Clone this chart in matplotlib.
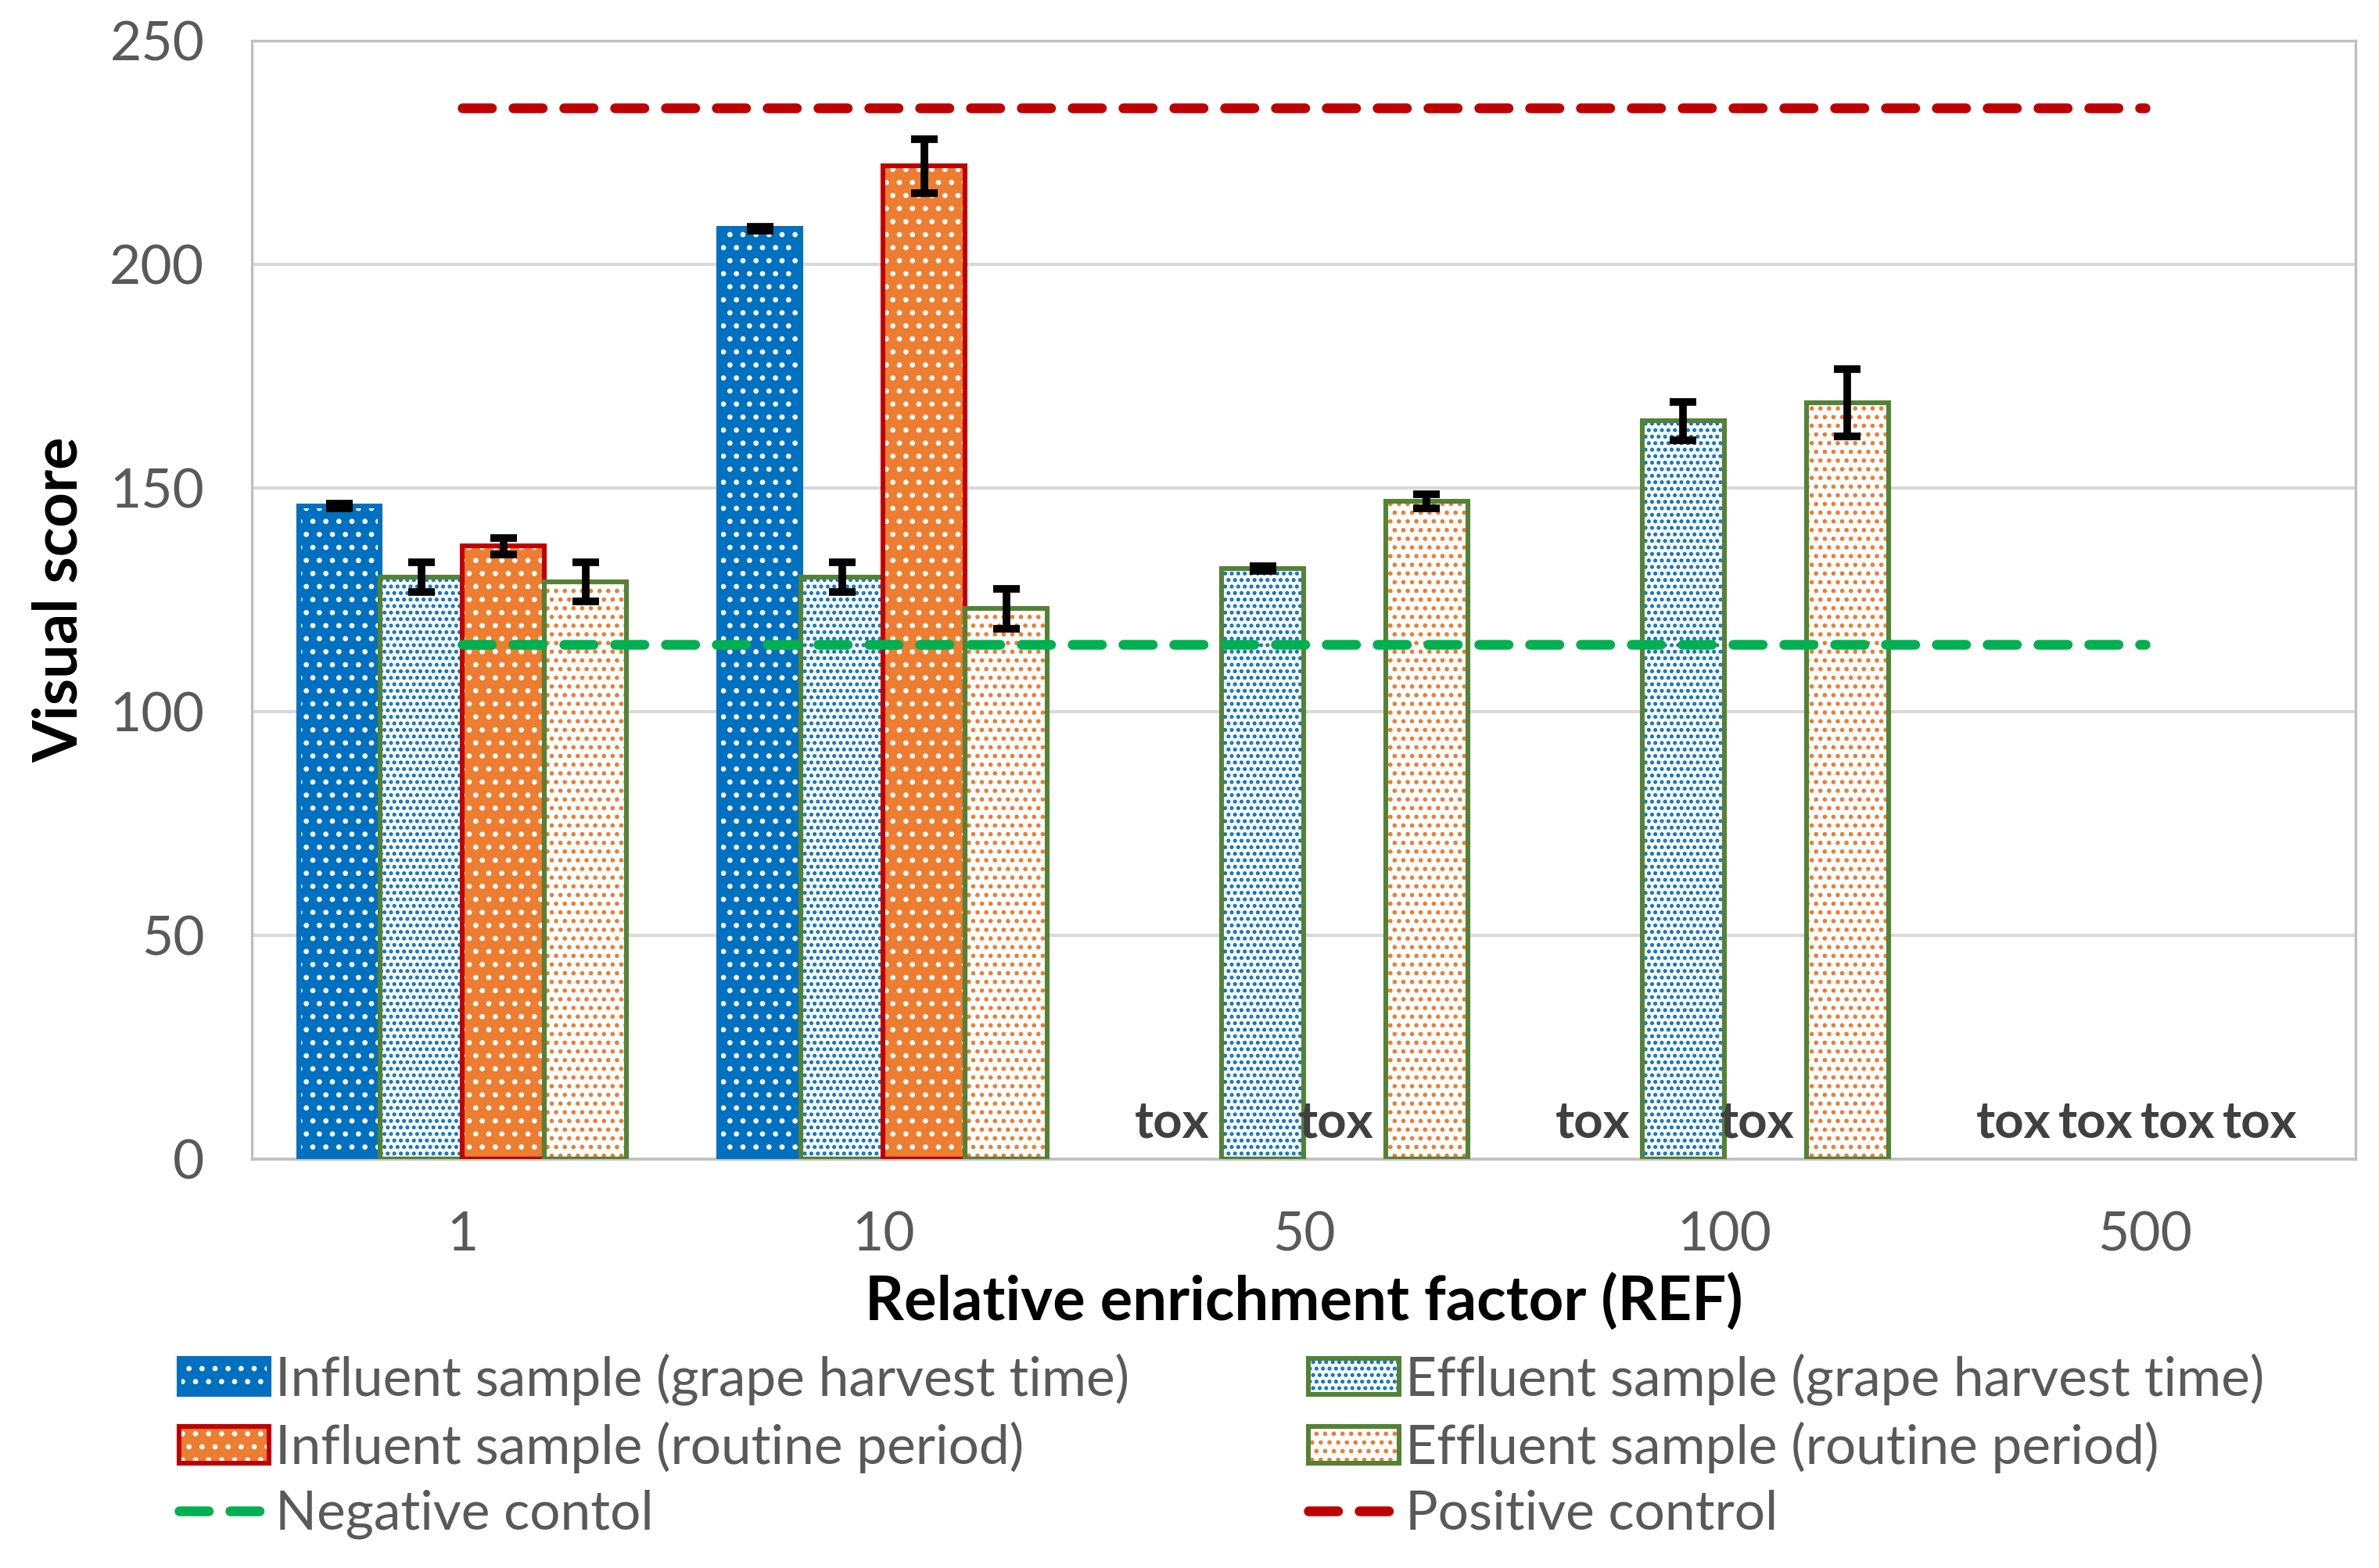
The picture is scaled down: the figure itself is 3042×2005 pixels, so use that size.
import matplotlib
matplotlib.use('Agg')
import matplotlib.pyplot as plt
import numpy as np
from matplotlib.lines import Line2D

plt.rcParams['font.family'] = ['Lato', 'DejaVu Sans']
plt.rcParams['hatch.linewidth'] = 1.2

# Données
categories = ['1', '10', '50', '100', '500']
series_labels = ['Influent sample (grape harvest time)',
                 'Effluent sample (grape harvest time)',
                 'Influent sample (routine period)',
                 'Effluent sample (routine period)']
# np.nan = toxique ("tox")
influent_grape = [146, 208, np.nan, np.nan, np.nan]
influent_grape_err = [0.5, 0.4, 0, 0, 0]
effluent_grape = [130, 130, 132, 165, np.nan]
effluent_grape_err = [3.3, 3.3, 0.5, 4.3, 0]
influent_routine = [137, 222, np.nan, np.nan, np.nan]
influent_routine_err = [1.8, 6.0, 0, 0, 0]
effluent_routine = [129, 123, 147, 169, np.nan]
effluent_routine_err = [4.4, 4.4, 1.6, 7.5, 0]
negative_control = 115
positive_control = 235

series = [influent_grape, effluent_grape, influent_routine, effluent_routine]
errors = [influent_grape_err, effluent_grape_err, influent_routine_err, effluent_routine_err]

# Styles : (couleur de fond, couleur des points, bordure, motif)
styles = [
    ('#0070C0', 'white', '#0070C0', '..'),
    ('white', '#0070C0', '#548235', '....'),
    ('#ED7D31', 'white', '#C00000', '..'),
    ('white', '#ED7D31', '#548235', '...'),
]

fig = plt.figure(figsize=(15.21, 10.025), dpi=200)
ax = fig.add_axes([0.106, 0.261, 0.884, 0.713])

x = np.arange(len(categories))
w = 0.195
offsets = [-1.5 * w, -0.5 * w, 0.5 * w, 1.5 * w]
handles = []
for vals, errs, (fc, hc, ec, hatch), off in zip(series, errors, styles, offsets):
    vals = np.array(vals, dtype=float)
    b1 = ax.bar(x + off, vals, w, color=fc, edgecolor=hc, hatch=hatch, linewidth=0, zorder=2)
    b2 = ax.bar(x + off, vals, w, fill=False, edgecolor=ec, linewidth=2.2, zorder=3)
    errs = np.array(errs)
    ok = ~np.isnan(vals)
    ax.errorbar((x + off)[ok], vals[ok], yerr=errs[ok], fmt='none', ecolor='black',
                elinewidth=3.5, capsize=6, capthick=3.5, zorder=4)
    # Texte "tox"
    for xi, v in zip(x + off, vals):
        if np.isnan(v):
            ax.text(xi - 0.02, 8, 'tox', ha='center', va='center', fontsize=23.5,
                    fontweight='bold', color='#404040', zorder=5)
    handles.append((b1[0], b2[0]))

# Contrôles
dash = (0, (3, 2.2))
ax.plot([x[0], x[-1]], [negative_control, negative_control], color='#00B050',
        linestyle=dash, linewidth=4.5, dash_capstyle='round', zorder=5)
ax.plot([x[0], x[-1]], [positive_control, positive_control], color='#C00000',
        linestyle=dash, linewidth=4.5, dash_capstyle='round', zorder=5)

ax.set_xlim(-0.5, len(categories) - 0.5)
ax.set_ylim(0, 250)
ax.set_yticks(range(0, 251, 50))
ax.set_xticks(x)
ax.set_xticklabels(categories)
ax.tick_params(axis='both', labelsize=25, labelcolor='#595959', length=0)
ax.tick_params(axis='y', pad=22)
ax.tick_params(axis='x', pad=24)
ax.grid(axis='y', color='#D9D9D9', linewidth=1.5, zorder=0)
ax.set_axisbelow(True)
for s in ax.spines.values():
    s.set_color('#BFBFBF')
    s.set_linewidth(1.2)

ax.set_xlabel('Relative enrichment factor (REF)', fontsize=28, fontweight='bold', labelpad=6)
ax.set_ylabel('Visual score', fontsize=28, fontweight='bold', labelpad=10)

neg = Line2D([], [], color='#00B050', linestyle=dash, linewidth=4.5, dash_capstyle='round')
pos = Line2D([], [], color='#C00000', linestyle=dash, linewidth=4.5, dash_capstyle='round')

leg_kw = dict(frameon=False, fontsize=25, labelcolor='#595959', handlelength=1.66,
              handleheight=0.65, handletextpad=0.12, labelspacing=0.3, borderaxespad=0)
fig.legend([handles[0], handles[2], neg],
           [series_labels[0], series_labels[2], 'Negative contol'],
           loc='upper left', bbox_to_anchor=(0.066, 0.151), **leg_kw)
fig.legend([handles[1], handles[3], pos],
           [series_labels[1], series_labels[3], 'Positive control'],
           loc='upper left', bbox_to_anchor=(0.541, 0.151), **leg_kw)

plt.savefig('out.png', dpi=200)
